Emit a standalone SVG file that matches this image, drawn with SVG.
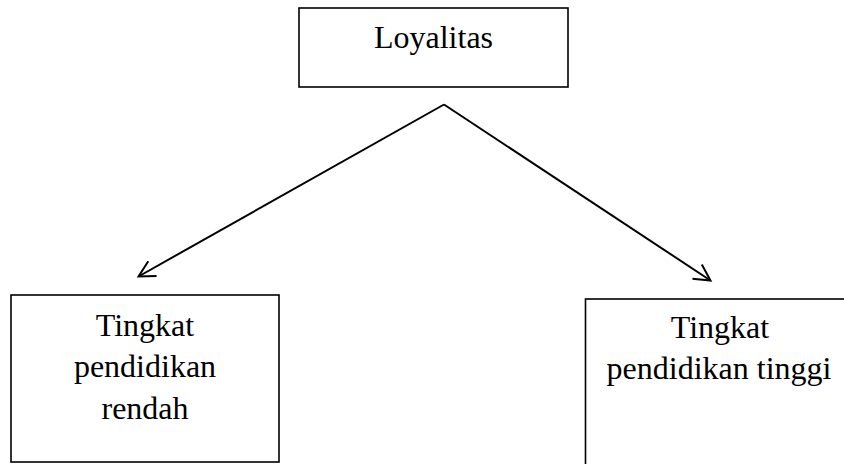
<svg xmlns="http://www.w3.org/2000/svg" width="844" height="464" viewBox="0 0 844 464">
<defs>
<style>
.box{fill:#fff;stroke:#000;stroke-width:1.6}
.t{font-family:"Liberation Serif","Times New Roman",serif;font-size:32px;fill:#000;text-anchor:middle}
.c{stroke:#000;stroke-width:2;fill:none}
</style>
<marker id="arr" viewBox="0 0 24 24" refX="19" refY="12" markerWidth="24" markerHeight="24" markerUnits="userSpaceOnUse" orient="auto">
<path d="M3,3.5 L19,12 L3,20.5" fill="none" stroke="#000" stroke-width="2"/>
</marker>
</defs>
<rect width="844" height="464" fill="#fff"/>
<g id="loyalitas">
<rect class="box" x="299" y="8" width="269" height="79"/>
<text class="t" x="433.5" y="48">Loyalitas</text>
</g>
<g id="rendah">
<rect class="box" x="11" y="295" width="268" height="167"/>
<text class="t" x="145" y="336">Tingkat</text>
<text class="t" x="145" y="377">pendidikan</text>
<text class="t" x="145" y="419">rendah</text>
</g>
<g id="tinggi">
<rect class="box" x="585.5" y="299" width="280" height="180"/>
<text class="t" x="720" y="338">Tingkat</text>
<text class="t" x="719" y="379">pendidikan tinggi</text>
</g>
<g id="connectors">
<path class="c" d="M444,104.5 L138.5,276.5" marker-end="url(#arr)"/>
<path class="c" d="M444,104.5 L710.5,280.5" marker-end="url(#arr)"/>
</g>
</svg>
